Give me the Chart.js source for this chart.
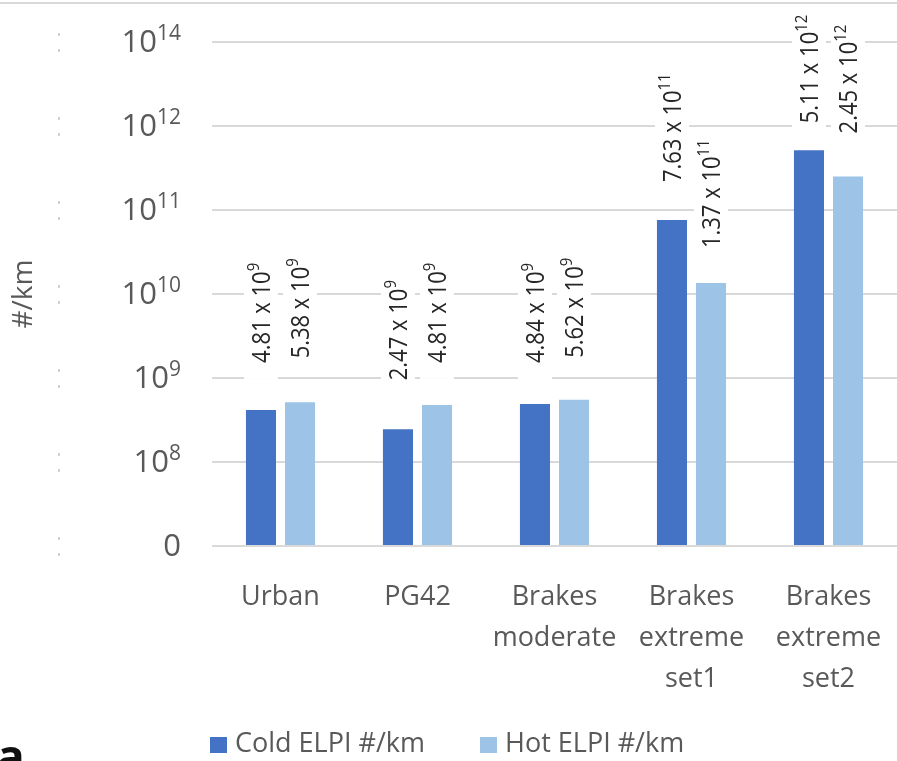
<!DOCTYPE html>
<html>
<head>
<meta charset="utf-8">
<script src="https://cdn.jsdelivr.net/npm/chart.js@4/dist/chart.umd.min.js"></script>
<style>
  html, body { margin: 0; padding: 0; background: #fff; overflow: hidden; }
  #wrap { position: relative; width: 897px; height: 761px; }
</style>
</head>
<body>
<div id="wrap"><canvas id="elpi" width="897" height="761"></canvas></div>
<script>
// ── Data ───────────────────────────────────────────────────────────────────
const categories = [
  ['Urban'],
  ['PG42'],
  ['Brakes', 'moderate'],
  ['Brakes', 'extreme', 'set1'],
  ['Brakes', 'extreme', 'set2'],
];

// y axis is stepped: one step per tick label below (0, 10^8, 10^9 ... 10^14)
const yTickBase = ['0', '10', '10', '10', '10', '10', '10'];
const yTickExp  = ['',  '8',  '9',  '10', '11', '12', '14'];

// bar heights as drawn, in axis steps
const coldValues = [1.62, 1.39, 1.69, 3.88, 4.71];
const hotValues  = [1.71, 1.68, 1.74, 3.13, 4.40];

// printed data labels
const coldMantissa = ['4.81', '2.47', '4.84', '7.63', '5.11'];
const coldExp      = ['9', '9', '9', '11', '12'];
const hotMantissa  = ['5.38', '4.81', '5.62', '1.37', '2.45'];
const hotExp       = ['9', '9', '9', '11', '12'];

const seriesNames = ['Cold ELPI #/km', 'Hot ELPI #/km'];

// ── Style ──────────────────────────────────────────────────────────────────
const COLD  = '#4472C4';
const HOT   = '#9DC3E6';
const GRID  = '#D9D9D9';
const MUTED = '#595959';
const FONT  = '"Open Sans", "DejaVu Sans", sans-serif';

// gap between bar top and the start of its rotated label (px)
const labelLift = [
  [47, 49, 41, 38, 27],
  [44, 42, 42, 35, 43],
];

// text with a raised exponent, anchored at its left end
function supText(ctx, x, y, base, exp, size, supSize, raise) {
  ctx.font = `${size}px ${FONT}`;
  ctx.fillText(base, x, y);
  const w = ctx.measureText(base).width;
  if (!exp) return w;
  ctx.font = `${supSize}px ${FONT}`;
  ctx.fillText(exp, x + w, y - raise);
  return w + ctx.measureText(exp).width;
}

function supWidth(ctx, base, exp, size, supSize) {
  ctx.font = `${size}px ${FONT}`;
  let w = ctx.measureText(base).width;
  if (exp) {
    ctx.font = `${supSize}px ${FONT}`;
    w += ctx.measureText(exp).width;
  }
  return w;
}

// ── Plugin: y tick labels, axis title, legend, frame bits ─────────────────
const decorPlugin = {
  id: 'decor',
  beforeDraw(chart) {
    const ctx = chart.ctx;
    ctx.save();
    ctx.fillStyle = '#fff';
    ctx.fillRect(0, 0, chart.width, chart.height);
    ctx.fillStyle = GRID;
    ctx.fillRect(0, 2, chart.width, 2);
    ctx.restore();
  },
  afterDraw(chart) {
    const ctx = chart.ctx;
    const y = chart.scales.y;
    ctx.save();

    // y tick labels
    ctx.textBaseline = 'alphabetic';
    ctx.textAlign = 'left';
    y.ticks.forEach((t, i) => {
      const py = y.getPixelForValue(t.value);
      const w = supWidth(ctx, yTickBase[i], yTickExp[i], 31, 21);
      ctx.fillStyle = MUTED;
      supText(ctx, 181 - w, py + 10, yTickBase[i], yTickExp[i], 31, 21, 12);
      // faint crop marks at the far left
      ctx.fillStyle = '#D0D0D0';
      ctx.fillRect(58, py - 9, 2, 3);
      ctx.fillRect(58, py + 7, 2, 3);
    });

    // y axis title
    ctx.save();
    ctx.fillStyle = MUTED;
    ctx.translate(24, (y.top + y.bottom) / 2);
    ctx.rotate(-Math.PI / 2);
    ctx.textAlign = 'center';
    ctx.textBaseline = 'middle';
    ctx.font = `28px ${FONT}`;
    ctx.fillText('#/km', 0, 0);
    ctx.restore();

    // legend
    const colors = [COLD, HOT];
    const starts = [210, 480];
    ctx.font = `27px ${FONT}`;
    ctx.textBaseline = 'middle';
    ctx.textAlign = 'left';
    seriesNames.forEach((name, i) => {
      ctx.fillStyle = colors[i];
      ctx.fillRect(starts[i], 737, 17, 16);
      ctx.fillStyle = MUTED;
      ctx.fillText(name, starts[i] + 25, 744);
    });

    // cut-off panel letter
    ctx.fillStyle = '#111';
    ctx.font = `bold 46px ${FONT}`;
    ctx.textBaseline = 'alphabetic';
    ctx.fillText('a', -3, 773);

    ctx.restore();
  },
};

// ── Plugin: rotated value labels on white boxes ───────────────────────────
const valueLabelPlugin = {
  id: 'valueLabels',
  afterDatasetsDraw(chart) {
    const ctx = chart.ctx;
    const texts = [[coldMantissa, coldExp], [hotMantissa, hotExp]];
    const squeeze = 0.88;
    ctx.save();
    chart.data.datasets.forEach((ds, di) => {
      const meta = chart.getDatasetMeta(di);
      meta.data.forEach((bar, i) => {
        const base = texts[di][0][i] + ' x 10';
        const exp  = texts[di][1][i];
        const w = supWidth(ctx, base, exp, 25, 17) * squeeze;
        ctx.save();
        ctx.translate(bar.x, bar.y - labelLift[di][i]);
        ctx.rotate(-Math.PI / 2);
        ctx.fillStyle = '#fff';
        ctx.fillRect(-16, -17, w + 20, 34);
        ctx.scale(squeeze, 1);
        ctx.fillStyle = '#262626';
        ctx.textBaseline = 'alphabetic';
        ctx.textAlign = 'left';
        supText(ctx, 0, 9, base, exp, 25, 17, 11);
        ctx.restore();
      });
    });
    ctx.restore();
  },
};

// ── Chart ──────────────────────────────────────────────────────────────────
new Chart(document.getElementById('elpi').getContext('2d'), {
  type: 'bar',
  data: {
    labels: categories,
    datasets: [
      { label: seriesNames[0], data: coldValues, backgroundColor: COLD },
      { label: seriesNames[1], data: hotValues,  backgroundColor: HOT },
    ],
  },
  options: {
    responsive: false,
    animation: false,
    devicePixelRatio: 1,
    layout: { padding: { top: 42, left: 0, right: 0, bottom: 0 } },
    datasets: { bar: { categoryPercentage: 0.57, barPercentage: 0.77 } },
    plugins: { legend: { display: false }, tooltip: { enabled: false } },
    scales: {
      x: {
        grid: { display: false },
        border: { display: false },
        ticks: {
          color: MUTED,
          font: { family: FONT, size: 27, lineHeight: 41 / 27 },
          padding: 23,
          maxRotation: 0,
          autoSkip: false,
        },
        afterFit: s => {
          s.height = 215;
          s.paddingLeft = 0;
          s.paddingRight = 0;
        },
      },
      y: {
        min: 0,
        max: 6,
        grid: { color: GRID, lineWidth: 2, drawTicks: false },
        border: { display: false },
        ticks: { stepSize: 1, display: false },
        afterFit: s => { s.width = 212; },
      },
    },
  },
  plugins: [decorPlugin, valueLabelPlugin],
});
</script>
</body>
</html>
